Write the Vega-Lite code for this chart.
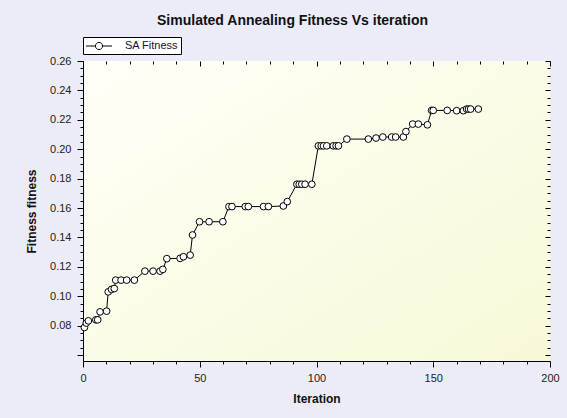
{
  "$schema": "https://vega.github.io/schema/vega-lite/v6.json",
  "autosize": {"type": "none"},
  "width": 467,
  "height": 300,
  "padding": {"left": 83, "top": 61, "right": 17, "bottom": 57},
  "background": "#ececf9",
  "title": {"text": "Simulated Annealing Fitness Vs iteration", "font": "Liberation Sans", "fontSize": 14, "fontWeight": "bold", "color": "#111111", "anchor": "middle", "frame": "group", "dx": -24, "offset": 9},
  "config": {
    "view": {"fill": {"gradient": "linear", "x1": 0, "y1": 0, "x2": 1, "y2": 1, "stops": [{"offset": 0, "color": "#fffff8"}, {"offset": 1, "color": "#f8f8d8"}]}, "stroke": null},
    "axis": {"grid": false, "domainColor": "#000000", "domainWidth": 1, "tickColor": "#000000", "labelFont": "Liberation Sans", "labelFontSize": 11, "labelColor": "#222222", "titleFont": "Liberation Sans", "titleFontSize": 12, "titleFontWeight": "bold", "titleColor": "#111111", "labelOverlap": false, "labelFlush": false}
  },
  "data": {"values": [
    {"i": 0.6, "f": 0.0788}, {"i": 1.4, "f": 0.0818}, {"i": 2.3, "f": 0.0833}, {"i": 5.5, "f": 0.084}, {"i": 6.3, "f": 0.084},
    {"i": 7.3, "f": 0.0894}, {"i": 10.1, "f": 0.0899},
    {"i": 10.8, "f": 0.103}, {"i": 12.2, "f": 0.1047}, {"i": 13.4, "f": 0.1053},
    {"i": 14, "f": 0.111}, {"i": 16.3, "f": 0.111}, {"i": 18.7, "f": 0.111}, {"i": 22, "f": 0.111},
    {"i": 26.5, "f": 0.1171}, {"i": 30, "f": 0.1171}, {"i": 33, "f": 0.1171}, {"i": 34.2, "f": 0.1183},
    {"i": 35.9, "f": 0.1256}, {"i": 41.6, "f": 0.1258}, {"i": 43, "f": 0.1269}, {"i": 45.9, "f": 0.128},
    {"i": 46.9, "f": 0.1417},
    {"i": 49.9, "f": 0.1507}, {"i": 54, "f": 0.1507}, {"i": 59.9, "f": 0.1507},
    {"i": 62.5, "f": 0.161}, {"i": 63.8, "f": 0.161}, {"i": 69.5, "f": 0.161}, {"i": 70.8, "f": 0.161}, {"i": 77.3, "f": 0.161}, {"i": 79.4, "f": 0.161},
    {"i": 85.8, "f": 0.1614}, {"i": 87.5, "f": 0.1644},
    {"i": 91.6, "f": 0.1762}, {"i": 92.6, "f": 0.1762}, {"i": 93.7, "f": 0.1762}, {"i": 95.1, "f": 0.1762}, {"i": 98, "f": 0.1762},
    {"i": 100.8, "f": 0.2023}, {"i": 102, "f": 0.2023}, {"i": 103, "f": 0.2023}, {"i": 104.4, "f": 0.2023}, {"i": 107.2, "f": 0.2023}, {"i": 108.4, "f": 0.2023}, {"i": 109.4, "f": 0.2023},
    {"i": 113, "f": 0.2069}, {"i": 122.2, "f": 0.2069}, {"i": 125.5, "f": 0.2076}, {"i": 128.4, "f": 0.2083}, {"i": 132.2, "f": 0.2083}, {"i": 133.9, "f": 0.2083}, {"i": 137.2, "f": 0.2083},
    {"i": 138.3, "f": 0.212},
    {"i": 141.2, "f": 0.2171}, {"i": 143.6, "f": 0.2171}, {"i": 147.5, "f": 0.2166},
    {"i": 149.3, "f": 0.2264}, {"i": 150, "f": 0.2264}, {"i": 156, "f": 0.2264}, {"i": 160, "f": 0.2262}, {"i": 162.9, "f": 0.2262}, {"i": 164.3, "f": 0.2273}, {"i": 165.1, "f": 0.2273}, {"i": 166, "f": 0.2273}, {"i": 169.3, "f": 0.2273}
  ]},
  "resolve": {"axis": {"x": "independent", "y": "independent"}},
  "layer": [
    {
      "encoding": {
        "x": {"field": "i", "type": "quantitative", "scale": {"domain": [0, 200], "nice": false}, "axis": {"orient": "bottom", "title": "Iteration", "titlePadding": 10, "values": [0, 10, 20, 30, 40, 50, 60, 70, 80, 90, 100, 110, 120, 130, 140, 150, 160, 170, 180, 190, 200], "labelExpr": "datum.value % 50 == 0 ? datum.label : ''", "tickSize": {"condition": {"test": "datum.value % 50 == 0", "value": 6}, "value": 3}, "labelPadding": 5}},
        "y": {"field": "f", "type": "quantitative", "scale": {"domain": [0.056, 0.26], "nice": false, "zero": false}, "axis": {"orient": "left", "title": "Fitness fitness", "titlePadding": 11, "values": [0.06, 0.065, 0.07, 0.075, 0.08, 0.085, 0.09, 0.095, 0.1, 0.105, 0.11, 0.115, 0.12, 0.125, 0.13, 0.135, 0.14, 0.145, 0.15, 0.155, 0.16, 0.165, 0.17, 0.175, 0.18, 0.185, 0.19, 0.195, 0.2, 0.205, 0.21, 0.215, 0.22, 0.225, 0.23, 0.235, 0.24, 0.245, 0.25, 0.255, 0.26], "labelExpr": "(round(datum.value * 1000) % 20 == 0 && datum.value > 0.065) ? format(datum.value, '.2f') : ''", "tickSize": {"condition": {"test": "round(datum.value * 1000) % 20 == 0", "value": 6}, "value": 3}, "labelPadding": 6}}
      },
      "layer": [
        {"mark": {"type": "line", "color": "#000000", "strokeWidth": 1}},
        {"mark": {"type": "point", "filled": false, "fill": "#ffffff", "fillOpacity": 1, "opacity": 1, "size": 45, "strokeWidth": 1},
         "encoding": {"stroke": {"datum": "SA Fitness", "type": "nominal", "scale": {"range": ["#000000"]}, "legend": {"title": null, "orient": "none", "legendX": 0, "legendY": -24, "symbolType": "M-2,0H-0.55M0.55,0H2M0.55,0A0.55,0.55,0,1,1,-0.55,0A0.55,0.55,0,1,1,0.55,0", "symbolSize": 169, "symbolOffset": 7, "symbolStrokeWidth": 1, "symbolFillColor": "#ffffff", "symbolStrokeColor": "#000000", "labelFont": "Liberation Sans", "labelFontSize": 11, "labelColor": "#111133", "labelOffset": 19, "strokeColor": "#000000", "fillColor": "#ffffff", "padding": 2}}}}
      ]
    },
    {
      "mark": {"type": "point", "opacity": 0},
      "encoding": {
        "x": {"field": "i", "type": "quantitative", "scale": {"domain": [0, 200], "nice": false}, "axis": {"orient": "top", "title": null, "labels": false, "domain": false, "values": [0, 10, 20, 30, 40, 50, 60, 70, 80, 90, 100, 110, 120, 130, 140, 150, 160, 170, 180, 190, 200], "tickSize": {"condition": {"test": "datum.value % 50 == 0", "value": -5}, "value": -3}}},
        "y": {"field": "f", "type": "quantitative", "scale": {"domain": [0.056, 0.26], "nice": false, "zero": false}, "axis": {"orient": "right", "title": null, "labels": false, "domain": false, "values": [0.06, 0.065, 0.07, 0.075, 0.08, 0.085, 0.09, 0.095, 0.1, 0.105, 0.11, 0.115, 0.12, 0.125, 0.13, 0.135, 0.14, 0.145, 0.15, 0.155, 0.16, 0.165, 0.17, 0.175, 0.18, 0.185, 0.19, 0.195, 0.2, 0.205, 0.21, 0.215, 0.22, 0.225, 0.23, 0.235, 0.24, 0.245, 0.25, 0.255, 0.26], "tickSize": {"condition": {"test": "round(datum.value * 1000) % 20 == 0", "value": -5}, "value": -3}}}
      }
    }
  ]
}
